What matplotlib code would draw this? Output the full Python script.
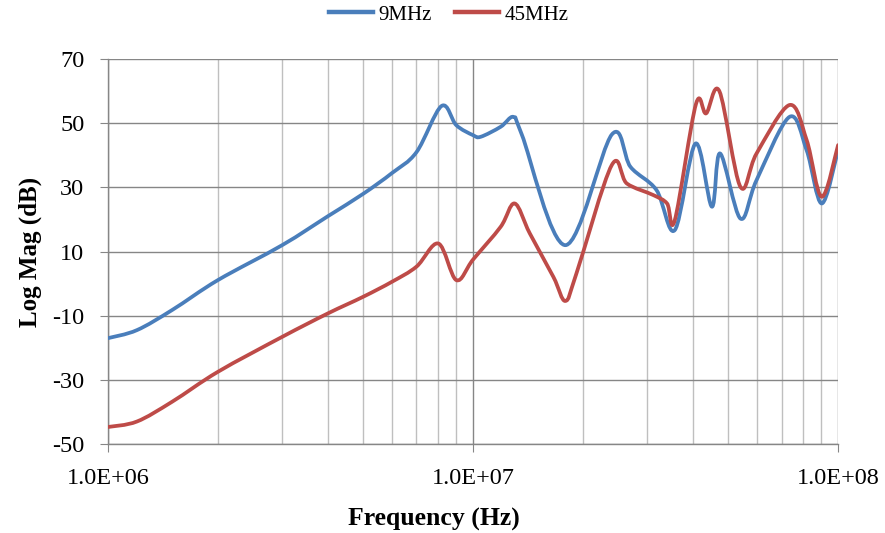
import matplotlib

matplotlib.use("Agg")
import matplotlib.pyplot as plt
import numpy as np
from matplotlib.lines import Line2D
from matplotlib.patches import PathPatch
from matplotlib.path import Path
from matplotlib.ticker import FixedLocator, NullFormatter, LogLocator

plt.rcParams["font.family"] = ["Liberation Serif", "DejaVu Serif"]
plt.rcParams["axes.unicode_minus"] = False

# 9 MHz trace (frequency in Hz, magnitude in dB)
freq_9 = [1.0e6, 1.2e6, 1.5e6, 2.0e6, 3.0e6, 4.0e6, 5.0e6, 6.0e6, 7.0e6,
          8.2e6, 9.0e6, 1.0e7, 1.05e7, 1.19e7, 1.29e7, 1.36e7, 1.79e7, 2.4e7,
          2.7e7, 3.18e7, 3.57e7, 4.07e7, 4.51e7, 4.75e7, 5.4e7, 5.98e7, 7.36e7,
          8.2e7, 9.02e7, 1.0e8]
mag_9 = [-17.0, -14.5, -8.2, 1.1, 12.0, 21.0, 28.0, 34.5, 41.0,
         55.4, 49.4, 46.3, 45.8, 48.9, 52.0, 46.5, 12.0, 46.5,
         36.4, 29.2, 16.7, 43.7, 24.0, 40.6, 20.3, 32.3, 52.0,
         41.6, 25.0, 41.6]

# 45 MHz trace
freq_45 = [1.0e6, 1.2e6, 1.5e6, 2.0e6, 3.0e6, 4.0e6, 5.0e6, 6.0e6, 7.0e6, 8.04e6,
           9.0e6, 1.0e7, 1.19e7, 1.3e7, 1.43e7, 1.66e7, 1.79e7, 1.92e7, 2.4e7,
           2.64e7, 3.12e7, 3.4e7, 3.57e7, 4.08e7, 4.35e7, 4.73e7, 5.4e7, 5.98e7,
           7.36e7, 8.2e7, 9.02e7, 1.0e8]
mag_45 = [-44.7, -43.0, -36.8, -27.5, -16.6, -9.3, -4.1, 0.6, 5.3, 12.5,
          1.1, 7.5, 17.7, 25.0, 15.7, 2.1, -5.4, 3.2, 37.0,
          31.2, 27.6, 25.0, 19.8, 56.0, 53.1, 60.0, 30.2, 40.6,
          55.7, 44.8, 27.1, 43.2]

y_ticks = [-50, -30, -10, 10, 30, 50, 70]
x_tick_labels = ["1.0E+06", "1.0E+07", "1.0E+08"]

BLUE = "#4A7EBB"
RED = "#BE4B48"


def smooth_path(freq, mag) -> Path:
    # Excel-style smoothed line: Catmull-Rom segments as cubic Bezier curves,
    # control points worked out in log-frequency space
    pts = np.column_stack([np.log10(freq), mag])
    padded = np.vstack([pts[0], pts, pts[-1]])
    verts = [pts[0]]
    codes = [Path.MOVETO]
    for i in range(len(pts) - 1):
        p0, p1, p2, p3 = padded[i], padded[i + 1], padded[i + 2], padded[i + 3]
        verts += [p1 + (p2 - p0) / 6, p2 - (p3 - p1) / 6, p2]
        codes += [Path.CURVE4] * 3
    verts = np.array(verts)
    verts[:, 0] = 10 ** verts[:, 0]
    return Path(verts, codes)


fig = plt.figure(figsize=(8.85, 5.33), dpi=100)
ax = fig.add_axes([0.122, 0.167, 0.825, 0.722])

for freq, mag, color in ((freq_9, mag_9, BLUE), (freq_45, mag_45, RED)):
    ax.add_patch(PathPatch(smooth_path(freq, mag), fill=False, edgecolor=color,
                           lw=2.7, joinstyle="round", capstyle="round", zorder=3))

ax.set_xscale("log")
ax.set_xlim(1e6, 1e8)
ax.set_ylim(-50, 70)

ax.xaxis.set_major_locator(FixedLocator([1e6, 1e7, 1e8]))
ax.set_xticklabels(x_tick_labels)
ax.xaxis.set_minor_locator(LogLocator(base=10, subs=range(2, 10)))
ax.xaxis.set_minor_formatter(NullFormatter())
ax.set_yticks(y_ticks)

ax.grid(which="minor", axis="x", color="#BFBFBF", lw=1.0)
ax.grid(which="major", axis="x", color="#868686", lw=1.0)
ax.grid(which="major", axis="y", color="#868686", lw=1.0)
ax.set_axisbelow(True)

for side in ("top", "right"):
    ax.spines[side].set_visible(False)
for side in ("left", "bottom"):
    ax.spines[side].set_color("#868686")
    ax.spines[side].set_linewidth(1.0)

ax.tick_params(axis="x", which="major", direction="out", length=6,
               color="#868686", labelsize=17.5, pad=11)
ax.tick_params(axis="x", which="minor", length=0)
ax.tick_params(axis="y", direction="out", length=6, color="#868686",
               labelsize=17.5, pad=11)

ax.set_xlabel("Frequency (Hz)", fontsize=18.5, fontweight="bold", va="center")
ax.xaxis.set_label_coords(0.447, -0.195)
ax.set_ylabel("Log Mag (dB)", fontsize=18, fontweight="bold", va="center")
ax.yaxis.set_label_coords(-0.107, 0.5)

handles = [Line2D([], [], color=BLUE, lw=3.2, label="9MHz"),
           Line2D([], [], color=RED, lw=3.2, label="45MHz")]
fig.legend(handles=handles, loc="center", bbox_to_anchor=(0.507, 0.972),
           ncol=2, frameon=False, fontsize=15, handlelength=2.1,
           columnspacing=1.15, handletextpad=0.25)

fig.savefig("out.png", dpi=100)
